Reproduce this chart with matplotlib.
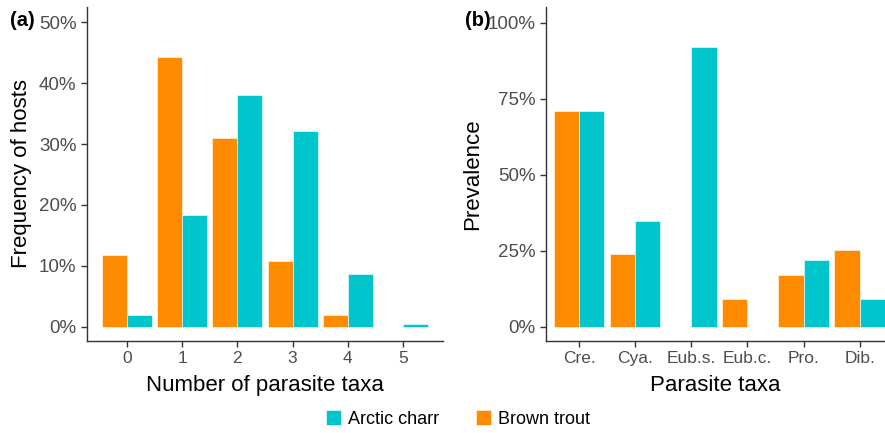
import numpy as np
import matplotlib.pyplot as plt

plt.rcParams['font.family'] = ['Liberation Sans', 'DejaVu Sans']

# panel (a): share of hosts by number of parasite taxa
n_taxa = ['0', '1', '2', '3', '4', '5']
trout_freq = [11.8, 44.3, 31.0, 10.8, 2.0, 0.0]
charr_freq = [2.0, 18.3, 38.1, 32.1, 8.7, 0.5]

# panel (b): prevalence per parasite taxon
taxa = ['Cre.', 'Cya.', 'Eub.s.', 'Eub.c.', 'Pro.', 'Dib.']
trout_prev = [71.0, 23.9, 0.0, 9.0, 17.0, 25.1]
charr_prev = [71.0, 34.9, 91.9, 0.0, 22.0, 9.0]

orange = '#FF8C00'
cyan = '#00C5CD'
W, H = 885, 433

fig = plt.figure(figsize=(W / 100, H / 100), dpi=100)
ax_a = fig.add_axes([87 / W, (H - 341) / H, (443 - 87) / W, (341 - 7) / H])
ax_b = fig.add_axes([546 / W, (H - 341) / H, (885 - 546) / W, (341 - 7) / H])


def draw(ax, cats, trout, charr, yticks, ylim, xlim):
    x = np.arange(len(cats))
    w = 0.45
    ax.bar(x - w / 2, trout, w, color=orange, edgecolor='white', linewidth=0.4,
           label='Brown trout')
    ax.bar(x + w / 2, charr, w, color=cyan, edgecolor='white', linewidth=0.4,
           label='Arctic charr')
    ax.set_xticks(x)
    ax.set_xticklabels(cats)
    ax.set_yticks(yticks)
    ax.set_yticklabels([f'{v}%' for v in yticks])
    ax.set_xlim(*xlim)
    ax.set_ylim(*ylim)
    for s in ['top', 'right']:
        ax.spines[s].set_visible(False)
    for s in ['left', 'bottom']:
        ax.spines[s].set_color('#333333')
        ax.spines[s].set_linewidth(1.0)
    ax.tick_params(colors='#333333', labelcolor='#4D4D4D', labelsize=12.5,
                   length=4, width=1.0)
    ax.tick_params(axis='y', labelsize=13.5)


draw(ax_a, n_taxa, trout_freq, charr_freq, [0, 10, 20, 30, 40, 50],
     (-2.35, 52.5), (-0.72, 5.72))
draw(ax_b, taxa, trout_prev, charr_prev, [0, 25, 50, 75, 100],
     (-4.7, 105.1), (-0.59, 5.45))

ax_a.set_xlabel('Number of parasite taxa', fontsize=16, labelpad=6)
ax_a.set_ylabel('Frequency of hosts', fontsize=16, labelpad=5)
ax_b.set_xlabel('Parasite taxa', fontsize=16, labelpad=6)
ax_b.set_ylabel('Prevalence', fontsize=16, labelpad=3)

fig.text(10 / W, 1 - 20 / H, '(a)', fontsize=14.5, fontweight='bold', va='center')
fig.text(465 / W, 1 - 20 / H, '(b)', fontsize=14.5, fontweight='bold', va='center')

handles, labels = ax_a.get_legend_handles_labels()
fig.legend(handles[::-1], labels[::-1], loc='center', ncol=2,
           bbox_to_anchor=(458 / W, 1 - 419 / H), frameon=False, fontsize=13,
           handlelength=0.85, handleheight=0.85, handletextpad=0.4,
           columnspacing=2.0)

fig.savefig('out.png', dpi=100)
